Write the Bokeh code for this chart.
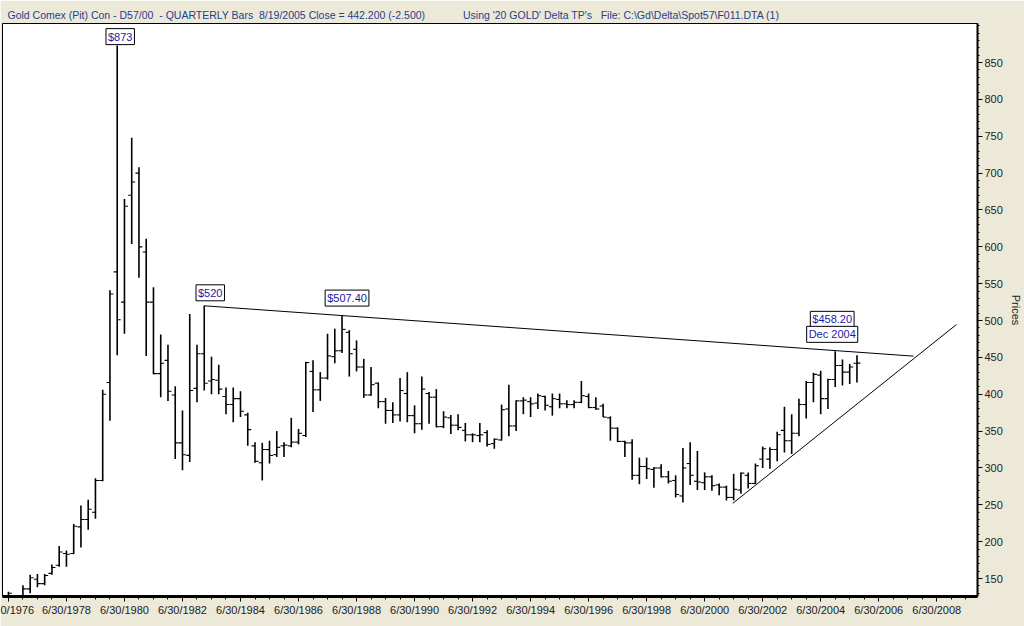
from bokeh.plotting import figure
from bokeh.models import FixedTicker, Range1d, Label, ColumnDataSource
from bokeh.embed import file_html
from bokeh.resources import INLINE

# ---------------- data (quarterly bars, first bar = Q2 1976) ----------------
first_year, first_quarter = 1976, 2

opens = [127, 124, 117, 136, 149, 143, 157, 168, 184, 184,
         220, 230, 240, 283, 416, 566, 525, 670, 700, 593,
         525, 428, 446, 399, 334, 317, 408, 455, 418, 419,
         397, 386, 394, 372, 330, 307, 325, 318, 330, 330,
         335, 344, 431, 406, 422, 451, 459, 484, 461, 437,
         399, 415, 390, 378, 372, 401, 371, 360, 401, 396,
         356, 368, 358, 351, 345, 344, 348, 333, 338, 380,
         357, 391, 390, 388, 397, 383, 393, 387, 386, 389,
         397, 382, 384, 368, 354, 336, 334, 290, 302, 298,
         300, 288, 283, 262, 306, 282, 280, 288, 277, 274,
         260, 270, 290, 279, 312, 312, 325, 351, 337, 347,
         386, 416, 426, 394, 420, 439, 430, 442]
highs = [132, 125, 141, 155, 156, 156, 169, 194, 188, 224,
         249, 257, 286, 406, 541, 873, 665, 748, 708, 611,
         545, 481, 467, 411, 378, 509, 467, 520, 451, 440,
         409, 409, 404, 375, 335, 334, 337, 350, 335, 368,
         353, 444, 446, 430, 482, 489, 507.4, 487, 473, 448,
         437, 416, 395, 389, 422, 430, 385, 424, 403, 407,
         377, 372, 373, 361, 347, 361, 351, 340, 386, 413,
         392, 396, 396, 401, 398, 401, 401, 392, 392, 418,
         401, 396, 387, 370, 355, 337, 339, 314, 314, 301,
         305, 296, 290, 327, 335, 323, 294, 290, 279, 276,
         292, 294, 294, 306, 329, 328, 349, 383, 373, 394,
         418, 429, 432, 421, 458.2, 447, 441, 453]
lows = [122, 103, 110, 130, 138, 141, 155, 166, 166, 183,
        192, 216, 231, 282, 364, 453, 482, 604, 558, 452,
        427, 396, 391, 312, 297, 308, 389, 405, 400, 400,
        373, 362, 369, 330, 307, 283, 306, 315, 315, 328,
        332, 342, 376, 391, 420, 442, 456, 424, 431, 395,
        398, 381, 360, 361, 363, 362, 347, 352, 360, 355,
        354, 346, 351, 336, 335, 335, 329, 326, 337, 343,
        350, 373, 369, 380, 378, 371, 381, 381, 381, 388,
        381, 379, 369, 337, 335, 315, 284, 278, 285, 273,
        287, 279, 260, 253, 277, 270, 270, 269, 263, 256,
        256, 265, 272, 278, 300, 299, 309, 321, 319, 343,
        367, 389, 373, 380, 410, 412, 414, 416]
closes = [130, 116, 136, 151, 143, 154, 165, 186, 183, 221,
          230, 244, 283, 400, 536, 501, 655, 688, 600, 525,
          428, 442, 404, 334, 318, 405, 455, 415, 420, 407,
          386, 394, 377, 352, 309, 325, 317, 328, 331, 335,
          347, 443, 406, 422, 452, 459, 488, 455, 437, 399,
          413, 390, 378, 372, 405, 371, 360, 407, 396, 356,
          369, 358, 355, 345, 345, 345, 332, 339, 379, 357,
          391, 392, 387, 398, 385, 394, 387, 386, 389, 398,
          382, 380, 369, 354, 336, 334, 290, 302, 299, 300,
          288, 282, 264, 300, 290, 281, 288, 276, 274, 260,
          271, 293, 279, 303, 326, 325, 345, 337, 347, 386,
          416, 427, 394, 420, 439, 430, 437, 442.2]

x_tick_dates = [1976, 1978, 1980, 1982, 1984, 1986, 1988, 1990, 1992, 1994,
                1996, 1998, 2000, 2002, 2004, 2006, 2008]
x_tick_labels = ["0/1976", "6/30/1978", "6/30/1980", "6/30/1982", "6/30/1984",
                 "6/30/1986", "6/30/1988", "6/30/1990", "6/30/1992", "6/30/1994",
                 "6/30/1996", "6/30/1998", "6/30/2000", "6/30/2002", "6/30/2004",
                 "6/30/2006", "6/30/2008"]
y_tick_values = [150, 200, 250, 300, 350, 400, 450, 500, 550, 600, 650, 700, 750, 800, 850]

# trend lines (date in decimal years, price)
resistance_dates = [1983.25, 2007.70]
resistance_prices = [520.0, 451.7]
support_dates = [2001.47, 2009.18]
support_prices = [252.0, 494.6]

# price call-outs: (text, bar index, x offset px, y offset px)
callouts = [("$873", 15, 3, 9), ("$520", 27, 6, 13), ("$507.40", 46, 5, 17),
            ("$458.20", 114, -3, 32), ("Dec 2004", 114, -3, 17)]

NB = "\u00a0"
title_text = ("Gold Comex (Pit) Con - D57/00" + NB + " - QUARTERLY Bars" + NB +
              " 8/19/2005 Close = 442.200 (-2.500)" + NB * 13 +
              "Using '20 GOLD' Delta TP's" + NB * 3 +
              "File: C:\\Gd\\Delta\\Spot57\\F011.DTA (1)")

# ---------------- derived positions ----------------
xs = []
for k in range(len(opens)):
    q = first_quarter - 1 + k
    xs.append(first_year + q // 4 + (q % 4 + 1) * 0.25)  # quarter-end date
tick = 0.12
src = ColumnDataSource(dict(x=xs, o=opens, h=highs, l=lows, c=closes,
                            xl=[v - tick for v in xs], xr=[v + tick for v in xs]))

BG = "#ECE9D8"
FONT = "Liberation Sans"

W, H = 1024, 626
LEFT, TOP, BOTTOM, RIGHT = 2, 23, 30, 46

p = figure(width=W, height=H, output_backend="svg", toolbar_location=None,
           x_range=Range1d(1976.296, 2009.905), y_range=Range1d(125.6, 903.0),
           y_axis_location="right",
           min_border_left=LEFT, min_border_right=RIGHT, min_border_top=TOP,
           min_border_bottom=BOTTOM,
           background_fill_color="white", border_fill_color=BG)
p.outline_line_color = "black"
p.outline_line_width = 1
p.grid.visible = False

p.title.text = title_text
p.title.align = "left"
p.title.offset = 5
p.title.standoff = 6
p.title.text_font = FONT
p.title.text_font_size = "10.5px"
p.title.text_font_style = "normal"
p.title.text_color = "#23408E"

p.segment(x0="x", y0="l", x1="x", y1="h", source=src, line_color="black", line_width=1.6)
p.segment(x0="xl", y0="o", x1="x", y1="o", source=src, line_color="black", line_width=1.1)
p.segment(x0="x", y0="c", x1="xr", y1="c", source=src, line_color="black", line_width=1.1)

p.line(resistance_dates, resistance_prices, line_color="black", line_width=1)
p.line(support_dates, support_prices, line_color="black", line_width=1)

for text, i, dx, dy in callouts:
    p.add_layout(Label(x=xs[i], y=highs[i], x_offset=dx, y_offset=dy, text=text,
                       text_align="center", text_baseline="middle",
                       text_font=FONT, text_font_size="11px", text_color="#1A1AA6",
                       background_fill_color="white", border_line_color="black",
                       border_line_width=1, padding=2))

# x axis
xa = p.xaxis[0]
x_tick_pos = [d + 0.5 for d in x_tick_dates]
xa.ticker = FixedTicker(ticks=x_tick_pos,
                        minor_ticks=[1976.0 + 0.5 * k for k in range(69)])
xa.major_label_overrides = {pos: lab for pos, lab in zip(x_tick_pos, x_tick_labels)}
xa.axis_line_width = 3
xa.axis_line_color = "black"
xa.major_tick_out = 5
xa.major_tick_in = 0
xa.minor_tick_out = 3
xa.minor_tick_in = 0
xa.major_label_standoff = 2
xa.major_label_text_font = FONT
xa.major_label_text_font_size = "11px"
xa.major_label_text_color = "#222222"

# y axis (right)
ya = p.yaxis[0]
ya.ticker = FixedTicker(ticks=y_tick_values,
                        minor_ticks=[130 + 10 * k for k in range(78)])
ya.axis_line_width = 2
ya.axis_line_color = "black"
ya.major_tick_out = 5
ya.major_tick_in = 0
ya.minor_tick_out = 2
ya.minor_tick_in = 0
ya.major_label_standoff = 2
ya.major_label_text_font = FONT
ya.major_label_text_font_size = "11px"
ya.major_label_text_color = "#222222"
ya.axis_label = "Prices"
ya.axis_label_standoff = 4
ya.axis_label_text_font = FONT
ya.axis_label_text_font_size = "11px"
ya.axis_label_text_font_style = "normal"
ya.axis_label_text_color = "#222222"

open("out.html", "w").write(file_html(p, INLINE))
